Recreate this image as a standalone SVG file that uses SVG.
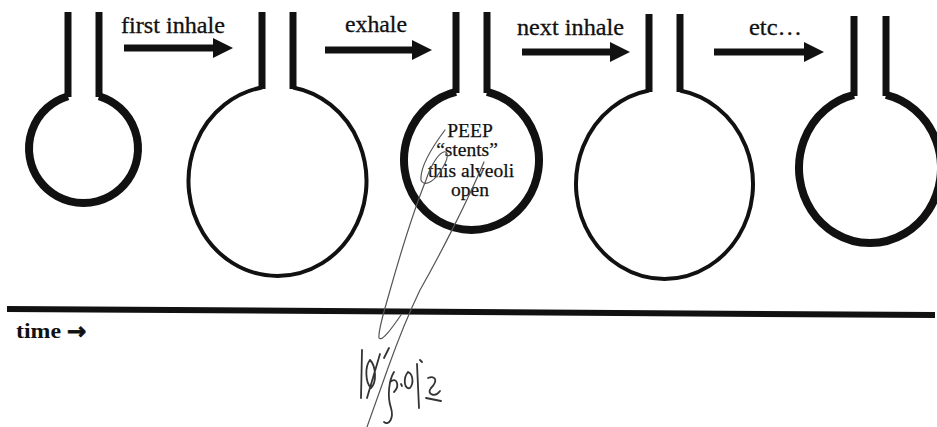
<svg xmlns="http://www.w3.org/2000/svg" width="937" height="427" viewBox="0 0 937 427">
  <style>
    .stem { fill: none; stroke: #111; stroke-width: 7; stroke-linecap: butt; }
    .sac-thick { fill: none; stroke: #111; stroke-width: 8; }
    .sac-thin { fill: none; stroke: #111; stroke-width: 4; }
    .step { fill: none; stroke: #111; stroke-width: 7; marker-end: url(#head); }
    .label { font-family: "Liberation Serif", "Times New Roman", serif; font-size: 23px; fill: #111; stroke: #111; stroke-width: 0.3; }
    .note { font-family: "Liberation Serif", "Times New Roman", serif; font-size: 19.5px; fill: #111; text-anchor: middle; stroke: #111; stroke-width: 0.25; }
    .axis { font-family: "Liberation Serif", "Times New Roman", serif; font-size: 22px; font-weight: bold; fill: #111; }
    .axis-arrow { font-family: "DejaVu Sans", sans-serif; font-size: 23px; font-weight: bold; fill: #111; stroke: #111; stroke-width: 0.8; }
    .pen { fill: none; stroke: #555; stroke-width: 1.2; stroke-linecap: round; stroke-linejoin: round; }
    .ink { fill: none; stroke: #333; stroke-width: 1.8; stroke-linecap: round; stroke-linejoin: round; }
  </style>
  <defs>
    <marker id="head" markerUnits="userSpaceOnUse" markerWidth="22" markerHeight="22" refX="0" refY="10" orient="auto">
      <path d="M0,0 L20,10 L0,20 Z" fill="#111"/>
    </marker>
  </defs>

  <rect width="937" height="427" fill="#ffffff"/>

  <!-- alveolus 1: collapsed at start -->
  <g id="alveolus-1">
    <path class="stem" d="M68,12 V97"/>
    <path class="stem" d="M99,12 V97"/>
    <path class="sac-thick" d="M68,96.25 A54.5,54.5 0 1 0 99,96.25"/>
  </g>

  <!-- alveolus 2: inflated after first inhale -->
  <g id="alveolus-2">
    <path class="stem" d="M262,12 V89"/>
    <path class="stem" d="M293,12 V89"/>
    <path class="sac-thin" d="M262,87.45 A89,95 0 1 0 293,87.45"/>
  </g>

  <!-- alveolus 3: held open by PEEP on exhale -->
  <g id="alveolus-3">
    <path class="stem" d="M456,12 V93"/>
    <path class="stem" d="M487,12 V93"/>
    <path class="sac-thick" d="M456,91.87 A67.5,70 0 1 0 487,91.87"/>
    <text class="note" x="470" y="137">PEEP</text>
    <text class="note" x="467" y="156">“stents”</text>
    <text class="note" x="471" y="177">this alveoli</text>
    <text class="note" x="470" y="196">open</text>
  </g>

  <!-- alveolus 4: inflated on next inhale -->
  <g id="alveolus-4">
    <path class="stem" d="M649,14 V92"/>
    <path class="stem" d="M680,14 V92"/>
    <path class="sac-thin" d="M649,90.47 A88.5,95 0 1 0 680,90.47"/>
  </g>

  <!-- alveolus 5 -->
  <g id="alveolus-5">
    <path class="stem" d="M854,16 V96"/>
    <path class="stem" d="M886,16 V96"/>
    <path class="sac-thick" d="M854,94.93 A71,75 0 1 0 886,94.93"/>
  </g>

  <!-- step arrows between breaths (line ends at the base of the head) -->
  <g id="connectors">
    <line class="step" x1="124" y1="48" x2="213" y2="48"/>
    <line class="step" x1="325" y1="50" x2="412" y2="50"/>
    <line class="step" x1="522" y1="52" x2="610" y2="52"/>
    <line class="step" x1="714" y1="52" x2="804" y2="52"/>
  </g>

  <g id="step-labels">
    <text class="label" x="121" y="33" textLength="104" lengthAdjust="spacingAndGlyphs">first inhale</text>
    <text class="label" x="345" y="32" textLength="62" lengthAdjust="spacingAndGlyphs">exhale</text>
    <text class="label" x="517" y="35" textLength="107" lengthAdjust="spacingAndGlyphs">next inhale</text>
    <text class="label" x="749" y="35" textLength="53" lengthAdjust="spacingAndGlyphs">etc…</text>
  </g>

  <!-- time axis -->
  <g id="time-axis">
    <line x1="7" y1="309" x2="935" y2="315" stroke="#111" stroke-width="6"/>
    <text class="axis" x="16" y="338" textLength="45" lengthAdjust="spacingAndGlyphs">time</text>
    <text class="axis-arrow" x="67" y="339">→</text>
  </g>

  <!-- pen marks -->
  <g id="pen-marks">
    <path class="pen" d="M445,130 C430,150 420,168 421,180 C423,186 432,184 440,172 C446,163 449,155 446,152 C441,150 432,162 426,180 C412,215 398,262 389,294 C384,312 378,330 379,338 C382,342 392,328 401,315"/>
    <path class="pen" d="M484,162 C468,200 440,255 420,290 C408,315 398,340 388,368 C380,390 373,410 367,427"/>
    <path class="ink" d="M362,350 L361,398 M370,360 C365,366 365,382 371,388 C377,382 376,366 370,360 M367,398 L380,354 M384,358 L389,348 M394,372 C389,380 387,396 391,408 C394,418 389,426 384,422 M390,382 C397,376 400,386 394,392 M401,384 L402,386 M408,372 C403,378 404,390 410,388 C414,383 413,374 408,372 M417,364 L419,408 M420,360 L422,362 M428,378 C436,375 438,381 431,388 C426,394 435,398 440,391 M426,398 L441,401"/>
  </g>
</svg>
